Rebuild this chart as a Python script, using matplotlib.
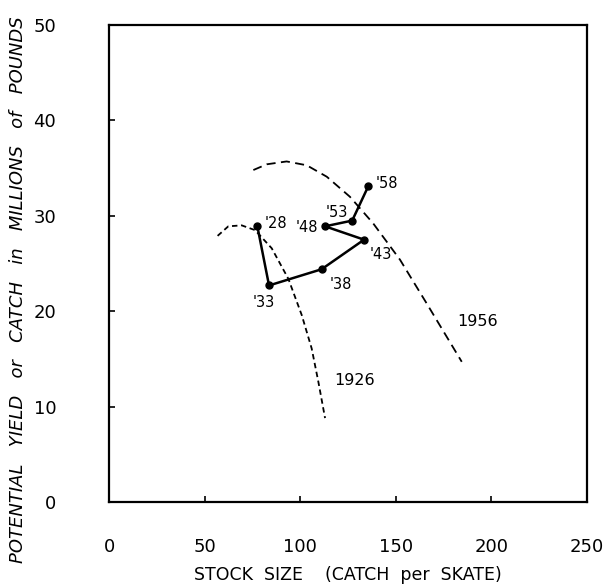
import numpy as np
import matplotlib.pyplot as plt

# catch history (stock size, yield)
years = ["'28", "'33", "'38", "'43", "'48", "'53", "'58"]
stock = np.array([77.6, 83.7, 111.2, 133.4, 113.0, 127.2, 135.6])
catch = np.array([28.9, 22.7, 24.4, 27.5, 28.9, 29.5, 33.1])

# potential yield curves
x1926 = np.array([56.8, 62.4, 69.4, 76.4, 85.1, 93.8, 100.8, 106.0, 109.5, 113.0])
y1926 = np.array([27.9, 28.9, 29.0, 28.5, 26.6, 23.4, 19.6, 16.1, 12.6, 8.8])
x1956 = np.array([75.5, 82.5, 92.9, 103.4, 113.9, 126.0, 138.2, 152.2, 166.2, 184.5])
y1956 = np.array([34.8, 35.4, 35.7, 35.3, 34.1, 32.0, 29.2, 25.4, 20.8, 14.7])

fig = plt.figure(figsize=(6.11, 5.86), dpi=100)
ax = fig.add_axes([0.1784, 0.1433, 0.7823, 0.814])

ax.plot(x1926, y1926, 'k--', lw=1.3, dashes=(3, 2))
ax.plot(x1956, y1956, 'k--', lw=1.3, dashes=(5, 3))
ax.plot(stock, catch, 'k-', lw=1.8, marker='o', ms=5)

offs = [(5, 2, 'left'), (-4, -12, 'center'), (6, -11, 'left'), (4, -11, 'left'),
        (-5, -1, 'right'), (-3, 6, 'right'), (5, 2, 'left')]
for s, c, t, (dx, dy, ha) in zip(stock, catch, years, offs):
    ax.annotate(t, (s, c), xytext=(dx, dy), textcoords='offset points',
                ha=ha, va='center', fontsize=10.5)

ax.text(193, 18.9, "1956", ha='center', va='center', fontsize=11.5)
ax.text(128.5, 12.7, "1926", ha='center', va='center', fontsize=11.5)

ax.set_xlim(0, 250)
ax.set_ylim(0, 50)
ax.set_xticks([0, 50, 100, 150, 200, 250])
ax.set_yticks([0, 10, 20, 30, 40, 50])
ax.tick_params(direction='in', length=4, width=1.2, labelsize=13)
ax.tick_params(axis='x', pad=26)
ax.tick_params(axis='y', pad=38)
for sp in ax.spines.values():
    sp.set_linewidth(1.6)

ax.set_xlabel("STOCK  SIZE    (CATCH  per  SKATE)", fontsize=12.5, labelpad=7)
fig.text(0.03, 0.505, "POTENTIAL   YIELD   or   CATCH   in   MILLIONS   of   POUNDS",
         rotation=90, style='italic', fontsize=13, ha='center', va='center')

fig.savefig("out.png", dpi=100)
